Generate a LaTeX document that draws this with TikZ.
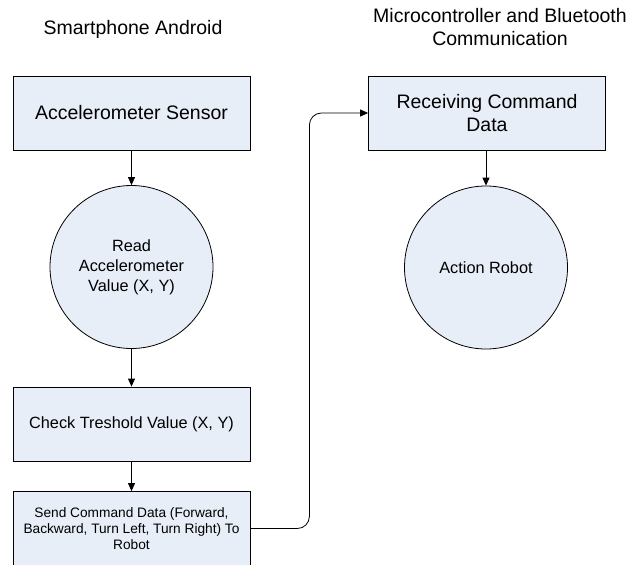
\documentclass[tikz,border=0pt]{standalone}
\usepackage{fontspec}
\setmainfont{Liberation Sans}
\usetikzlibrary{arrows.meta}
\definecolor{boxfill}{RGB}{232,238,247}
\begin{document}
\begin{tikzpicture}[x=1pt,y=-1pt,
  box/.style={draw=black, line width=0.8pt, fill=boxfill, minimum width=237pt, minimum height=74pt, inner sep=0pt, align=center},
  circ/.style={draw=black, line width=0.8pt, fill=boxfill, circle, minimum size=163pt, inner sep=0pt, align=center},
  arr/.style={-{Triangle[length=8pt,width=7pt]}, line width=0.8pt},
  big/.style={font=\fontsize{19.5}{22.5}\selectfont},
  mid/.style={font=\fontsize{16.3}{20}\selectfont},
  small/.style={font=\fontsize{13.7}{16}\selectfont},
  title/.style={font=\fontsize{19.5}{23}\selectfont, align=center, inner sep=0pt}]
\useasboundingbox (0,0) rectangle (630,565);
\node[title, anchor=base] (t1) at (133,34) {Smartphone Android};
\node[title] (t2) at (500,27.5) {Microcontroller and Bluetooth\\Communication};
\node[box, big] (acc) at (131.5,113) {Accelerometer Sensor};
\node[circ, mid] (read) at (131.5,267) {Read\\Accelerometer\\Value (X, Y)};
\node[box, mid] (chk) at (131.5,424) {Check Treshold Value (X, Y)};
\node[box, small] (send) at (131.5,528.5) {Send Command Data (Forward,\\Backward, Turn Left, Turn Right) To\\Robot};
\node[box, big] (recv) at (487,113) {Receiving Command\\Data};
\node[circ, mid] (act) at (486,267.5) {Action Robot};
\draw[arr] (acc) -- (read);
\draw[arr] (read) -- (chk);
\draw[arr] (chk) -- (send);
\draw[arr] (recv.south -| act.north) -- (act.north);
\draw[arr, rounded corners=12pt] (send.east) -- ++(59,0) |- (recv.west);
\end{tikzpicture}
\end{document}
